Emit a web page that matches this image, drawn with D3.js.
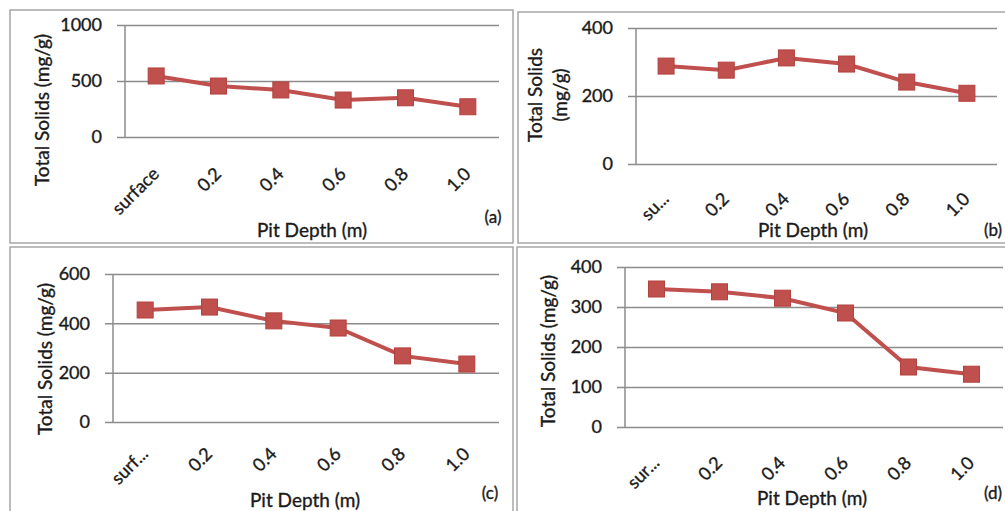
<!DOCTYPE html>
<html>
<head>
<meta charset="utf-8">
<script src="https://cdn.jsdelivr.net/npm/d3@7"></script>
<style>
  body { margin: 0; background: #fff; }
  text { font-family: Lato, "Open Sans", sans-serif; fill: #1a1a1a; stroke: #1a1a1a; stroke-width: 0.35px; }
</style>
</head>
<body>
<svg id="chart" width="1005" height="511"></svg>
<script>
// data for the four pit panels
const depthsA = ["surface", "0.2", "0.4", "0.6", "0.8", "1.0"];
const depthsB = ["su...", "0.2", "0.4", "0.6", "0.8", "1.0"];
const depthsC = ["surf...", "0.2", "0.4", "0.6", "0.8", "1.0"];
const depthsD = ["sur...", "0.2", "0.4", "0.6", "0.8", "1.0"];

const solidsA = [545, 455, 420, 330, 350, 270];
const solidsB = [288, 276, 312, 294, 241, 208];
const solidsC = [454, 466, 410, 381, 268, 235];
const solidsD = [345, 338, 322, 285, 150, 132];

const ticksA = [0, 500, 1000];
const ticksB = [0, 200, 400];
const ticksC = [0, 200, 400, 600];
const ticksD = [0, 100, 200, 300, 400];

const svg = d3.select("#chart");
const red = "#c0504d";

// panel frames
const frames = [
  { x: 10, y: 10, w: 503, h: 233 },
  { x: 518, y: 12, w: 500, h: 231 },
  { x: 10, y: 247, w: 503, h: 280 },
  { x: 517, y: 247, w: 500, h: 280 }
];
svg.selectAll(".frame")
  .data(frames)
  .join("rect")
    .attr("class", "frame")
    .attr("x", d => d.x)
    .attr("y", d => d.y)
    .attr("width", d => d.w)
    .attr("height", d => d.h)
    .attr("fill", "none")
    .attr("stroke", "#a6a6a6")
    .attr("stroke-width", 1.5);

// layout for each panel
const panels = [
  { cats: depthsA, vals: solidsA, ticks: ticksA, max: 1000, x0: 125, x1: 499, yTop: 25, yBot: 137,
    labelGap: 38, ytitle: ["Total Solids (mg/g)"], ytx: 42, yty: 110,
    xtx: 312, xty: 230, tag: "(a)", tagX: 493, tagY: 217 },
  { cats: depthsB, vals: solidsB, ticks: ticksB, max: 400, x0: 636, x1: 997, yTop: 28, yBot: 164,
    labelGap: 36, ytitle: ["Total Solids", "(mg/g)"], ytx: 548, yty: 95,
    xtx: 813, xty: 230, tag: "(b)", tagX: 993, tagY: 230 },
  { cats: depthsC, vals: solidsC, ticks: ticksC, max: 600, x0: 113, x1: 499, yTop: 274, yBot: 422,
    labelGap: 33, ytitle: ["Total Solids (mg/g)"], ytx: 45, yty: 359,
    xtx: 305, xty: 500, tag: "(c)", tagX: 490, tagY: 493 },
  { cats: depthsD, vals: solidsD, ticks: ticksD, max: 400, x0: 625, x1: 1003, yTop: 267, yBot: 427,
    labelGap: 37, ytitle: ["Total Solids (mg/g)"], ytx: 548, yty: 351,
    xtx: 812, xty: 498, tag: "(d)", tagX: 993, tagY: 493 }
];

panels.forEach(p => {
  const g = svg.append("g");

  const x = d3.scalePoint()
    .domain(p.cats)
    .range([p.x0, p.x1])
    .padding(0.5);

  const y = d3.scaleLinear()
    .domain([0, p.max])
    .range([p.yBot, p.yTop]);

  // gridlines + y tick labels
  const yAxis = g.append("g")
    .attr("transform", `translate(${p.x0 - 8},0)`)
    .call(d3.axisLeft(y)
      .tickValues(p.ticks)
      .tickFormat(d3.format("d"))
      .tickSize(-(p.x1 - p.x0 + 8))
      .tickPadding(15));
  yAxis.select(".domain").remove();
  yAxis.selectAll(".tick line")
    .attr("stroke", "#8c8c8c")
    .attr("stroke-width", 1.5);
  yAxis.selectAll(".tick text")
    .attr("font-family", "Lato, sans-serif")
    .attr("font-size", 18)
    .attr("fill", "#1a1a1a");

  // y axis line
  g.append("line")
    .attr("x1", p.x0).attr("x2", p.x0)
    .attr("y1", p.yTop).attr("y2", p.yBot)
    .attr("stroke", "#8c8c8c")
    .attr("stroke-width", 1.5);

  // x tick labels, rotated
  g.selectAll(".xlab")
    .data(p.cats)
    .join("text")
      .attr("class", "xlab")
      .attr("text-anchor", "end")
      .attr("font-size", 18)
      .attr("transform", d => `translate(${x(d) + 4},${p.yBot + p.labelGap}) rotate(-45)`)
      .text(d => d);

  // line and square markers
  const pts = p.cats.map((c, i) => [x(c), y(p.vals[i])]);
  g.append("path")
    .attr("d", d3.line()(pts))
    .attr("fill", "none")
    .attr("stroke", red)
    .attr("stroke-width", 4);

  g.selectAll(".marker")
    .data(pts)
    .join("rect")
      .attr("class", "marker")
      .attr("x", d => d[0] - 8)
      .attr("y", d => d[1] - 8)
      .attr("width", 16)
      .attr("height", 16)
      .attr("fill", red)
      .attr("stroke", "#b3423f")
      .attr("stroke-width", 1);

  // axis titles
  const yt = g.append("text")
    .attr("transform", `translate(${p.ytx},${p.yty}) rotate(-90)`)
    .attr("text-anchor", "middle")
    .attr("font-size", 19);
  p.ytitle.forEach((line, i) => {
    yt.append("tspan")
      .attr("x", 0)
      .attr("dy", i === 0 ? (p.ytitle.length > 1 ? "-0.3em" : "0.35em") : "1.3em")
      .text(line);
  });

  g.append("text")
    .attr("x", p.xtx)
    .attr("y", p.xty)
    .attr("dy", "0.35em")
    .attr("text-anchor", "middle")
    .attr("font-size", 19)
    .text("Pit Depth (m)");

  g.append("text")
    .attr("x", p.tagX)
    .attr("y", p.tagY)
    .attr("dy", "0.35em")
    .attr("text-anchor", "middle")
    .attr("font-size", 17)
    .text(p.tag);
});
</script>
</body>
</html>
